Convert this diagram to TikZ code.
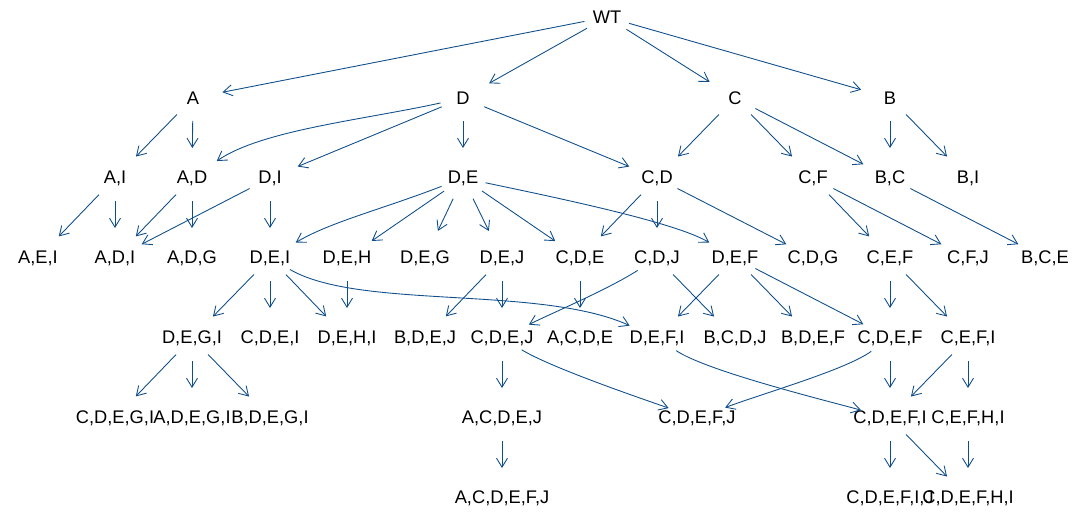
\documentclass[tikz,border=0pt]{standalone}
\usepackage{fontspec}
\setmainfont{Liberation Sans}
\usepackage{tikz}
\usetikzlibrary{arrows.meta}
\definecolor{edgec}{HTML}{104E8B}
\tikzset{
  lbl/.style={font=\fontsize{10.4}{12}\selectfont, inner sep=1pt},
  arr/.style={-{Straight Barb[length=1.8mm, width=2.2mm, line width=0.5pt]}, draw=edgec, line width=0.5pt,
              shorten <=4.6mm, shorten >=6mm},
}
\begin{document}
\begin{tikzpicture}[x=0.02cm, y=-0.02cm]
  \useasboundingbox (0,0) rectangle (1072,511);
  % rank 0 and 1
  \node[lbl] (wt) at (607,17) {WT};
  \node[lbl] (a) at (193,98) {A};
  \node[lbl] (d) at (463,98) {D};
  \node[lbl] (c) at (735,98) {C};
  \node[lbl] (b) at (890,98) {B};
  % rank 2
  \node[lbl] (ai) at (115,178) {A,I};
  \node[lbl] (ad) at (192,178) {A,D};
  \node[lbl] (di) at (270,178) {D,I};
  \node[lbl] (de) at (463,178) {D,E};
  \node[lbl] (cd) at (657,178) {C,D};
  \node[lbl] (cf) at (813,178) {C,F};
  \node[lbl] (bc) at (890,178) {B,C};
  \node[lbl] (bi) at (968,178) {B,I};
  % rank 3
  \node[lbl] (aei) at (38,258) {A,E,I};
  \node[lbl] (adi) at (115,258) {A,D,I};
  \node[lbl] (adg) at (192,258) {A,D,G};
  \node[lbl] (dei) at (270,258) {D,E,I};
  \node[lbl] (deh) at (347,258) {D,E,H};
  \node[lbl] (deg) at (425,258) {D,E,G};
  \node[lbl] (dej) at (502,258) {D,E,J};
  \node[lbl] (cde) at (580,258) {C,D,E};
  \node[lbl] (cdj) at (657,258) {C,D,J};
  \node[lbl] (def) at (735,258) {D,E,F};
  \node[lbl] (cdg) at (813,258) {C,D,G};
  \node[lbl] (cef) at (890,258) {C,E,F};
  \node[lbl] (cfj) at (968,258) {C,F,J};
  \node[lbl] (bce) at (1045,258) {B,C,E};
  % rank 4
  \node[lbl] (degi) at (192,338) {D,E,G,I};
  \node[lbl] (cdei) at (270,338) {C,D,E,I};
  \node[lbl] (dehi) at (347,338) {D,E,H,I};
  \node[lbl] (bdej) at (425,338) {B,D,E,J};
  \node[lbl] (cdej) at (502,338) {C,D,E,J};
  \node[lbl] (acde) at (580,338) {A,C,D,E};
  \node[lbl] (defi) at (657,338) {D,E,F,I};
  \node[lbl] (bcdj) at (735,338) {B,C,D,J};
  \node[lbl] (bdef) at (813,338) {B,D,E,F};
  \node[lbl] (cdef) at (890,338) {C,D,E,F};
  \node[lbl] (cefi) at (968,338) {C,E,F,I};
  % rank 5
  \node[lbl] (cdegi) at (115,418) {C,D,E,G,I};
  \node[lbl] (adegi) at (192,418) {A,D,E,G,I};
  \node[lbl] (bdegi) at (270,418) {B,D,E,G,I};
  \node[lbl] (acdej) at (502,418) {A,C,D,E,J};
  \node[lbl] (cdefj) at (697,418) {C,D,E,F,J};
  \node[lbl] (cdefi) at (890,418) {C,D,E,F,I};
  \node[lbl] (cefhi) at (968,418) {C,E,F,H,I};
  % rank 6
  \node[lbl] (acdefj) at (502,498) {A,C,D,E,F,J};
  \node[lbl] (cdefij) at (890,498) {C,D,E,F,I,J};
  \node[lbl] (cdefhi) at (968,498) {C,D,E,F,H,I};

  % straight edges
  \foreach \s/\t in {wt/a, wt/d, wt/c, wt/b, a/ai, a/ad, d/di, d/de, d/cd,
      c/cd, c/cf, c/bc, b/bc, b/bi, ai/aei, ai/adi, ad/adi, ad/adg, di/adi, di/dei,
      de/deh, de/deg, de/dej, de/cde, cd/cde, cd/cdj, cd/cdg, cf/cef, cf/cfj, bc/bce,
      dei/degi, dei/cdei, dei/dehi, deh/dehi, dej/bdej, dej/cdej, cde/acde, cdj/bcdj,
      def/defi, def/bdef, def/cdef, cef/cdef, cef/cefi,
      degi/cdegi, degi/adegi, degi/bdegi, cdej/acdej, cdef/cdefi, cefi/cdefi, cefi/cefhi,
      acdej/acdefj, cdefi/cdefij, cdefi/cdefhi, cefhi/cdefhi}
    \draw[arr] (\s.center) -- (\t.center);

  % curved edges
  \draw[arr] (d.center) .. controls (363,120) and (262,130) .. (ad.center);
  \draw[arr] (de.center) .. controls (383,209) and (330,222) .. (dei.center);
  \draw[arr] (de.center) .. controls (553,197) and (675,222) .. (def.center);
  \draw[arr] (dei.center) .. controls (360,310) and (540,285) .. (defi.center);
  \draw[arr] (cdj.center) .. controls (607,290) and (552,313) .. (cdej.center);
  \draw[arr] (cdej.center) .. controls (552,368) and (637,397) .. (cdefj.center);
  \draw[arr] (defi.center) .. controls (707,371) and (820,399) .. (cdefi.center);
  \draw[arr] (cdef.center) .. controls (845,370) and (767,392) .. (cdefj.center);
\end{tikzpicture}
\end{document}
